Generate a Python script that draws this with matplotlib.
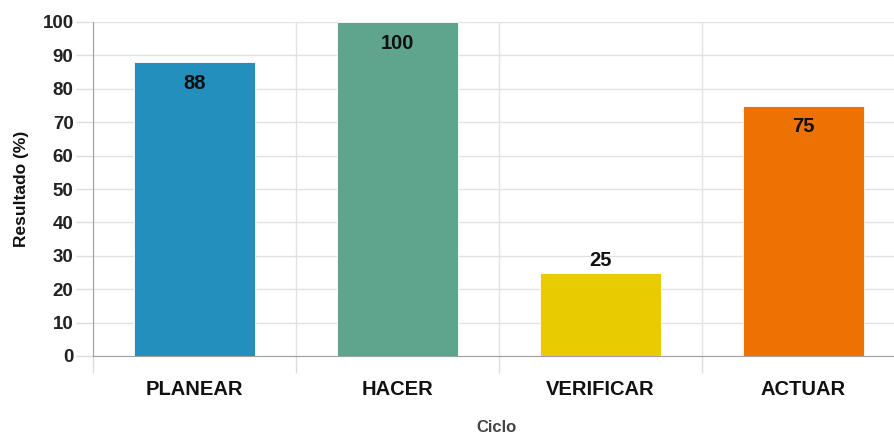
import numpy as np
import matplotlib.pyplot as plt

ciclos = ['PLANEAR', 'HACER', 'VERIFICAR', 'ACTUAR']
resultados = [88, 100, 25, 75]
colores = ['#238fbd', '#5fa58e', '#e8cb00', '#ee7203']

plt.rcParams['font.family'] = ['Liberation Sans', 'DejaVu Sans']
plt.rcParams['font.weight'] = 'bold'

fig = plt.figure(figsize=(8.94, 4.37), dpi=100)
ax = fig.add_axes([93 / 894, 1 - 356 / 437, 812 / 894, 334 / 437])

x = np.arange(len(ciclos))
bars = ax.bar(x, resultados, width=0.6, color=colores, edgecolor='white', linewidth=0.6, zorder=3)

for xi, val in zip(x, resultados):
    if val > 50:
        ax.annotate(str(val), (xi, val), xytext=(0, -8.5), textcoords='offset points',
                    ha='center', va='top', fontsize=14.5, color='#111111', zorder=4)
    else:
        ax.annotate(str(val), (xi, val), xytext=(0, 2), textcoords='offset points',
                    ha='center', va='bottom', fontsize=14.5, color='#111111', zorder=4)

ax.set_xlim(-0.5, len(ciclos) - 0.5)
ax.set_ylim(0, 100)
ax.set_yticks(np.arange(0, 101, 10))
ax.set_xticks(x)
ax.set_xticklabels(ciclos)
ax.set_xticks(np.arange(-0.5, len(ciclos), 1), minor=True)

ax.tick_params(axis='x', which='major', length=0, pad=17, labelsize=14.5, labelcolor='#111111')
ax.tick_params(axis='x', which='minor', length=12, color='#dddddd', width=1)
ax.tick_params(axis='y', length=12, color='#dddddd', width=1, pad=2, labelsize=13.5, labelcolor='#222222')

ax.grid(axis='y', color='#e2e2e2', linewidth=1, zorder=0)
ax.grid(axis='x', which='minor', color='#e2e2e2', linewidth=1, zorder=0)

for side in ['top', 'right']:
    ax.spines[side].set_visible(False)
ax.spines['left'].set_color('#a0a0a0')
ax.spines['bottom'].set_color('#a0a0a0')

ax.set_ylabel('Resultado (%)', fontsize=12.5, fontweight='bold', color='#111111', labelpad=10)
fig.text(497 / 894, 1 - 427 / 437, 'Ciclo', ha='center', va='center', fontsize=12,
         fontweight='bold', color='#444444')

fig.savefig('out.png', dpi=100)
